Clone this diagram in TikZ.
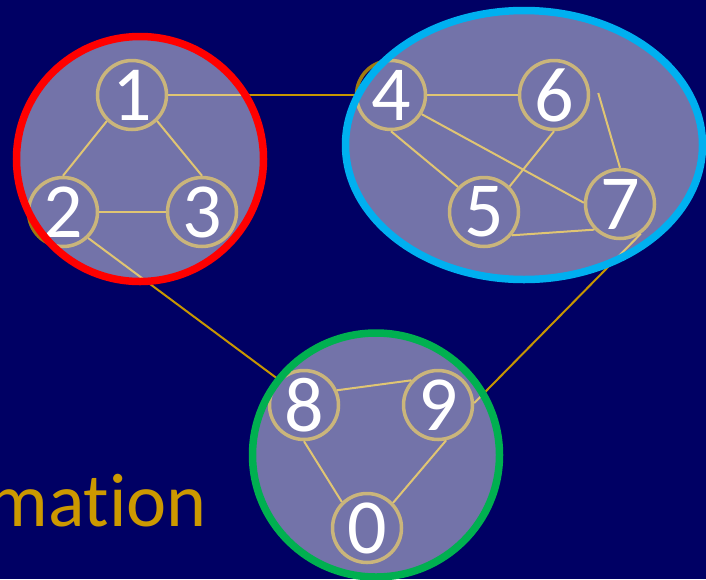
\documentclass[tikz,border=0pt]{standalone}
\usepackage{fontspec}
\setmainfont{Carlito}[Ligatures=NoCommon]
\definecolor{navy}{RGB}{0,0,100}
\definecolor{edgegold}{RGB}{200,150,0}
\definecolor{nodegold}{RGB}{160,122,16}
\definecolor{cred}{RGB}{255,0,0}
\definecolor{cblue}{RGB}{0,176,240}
\definecolor{cgreen}{RGB}{0,176,80}
\definecolor{txtgold}{RGB}{204,153,0}
\begin{document}
\begin{tikzpicture}[x=1pt,y=-1pt,
  vtx/.style={circle, draw=nodegold, line width=3.5pt, minimum size=69pt, inner sep=0pt,
    text=white, font=\fontsize{78}{78}\selectfont},
  edg/.style={draw=edgegold, line width=2pt},
  cluster/.style={fill=white, fill opacity=0.45, line width=7.5pt}]
\fill[navy] (0,0) rectangle (706,579);
\useasboundingbox (0,0) rectangle (706,579);
% vertices
\node[vtx] (n1) at (132,95) {1};
\node[vtx] (n2) at (63,212) {2};
\node[vtx] (n3) at (202,212) {3};
\node[vtx] (n4) at (391,95) {4};
\node[vtx] (n6) at (554,95) {6};
\node[vtx] (n5) at (484,212) {5};
\node[vtx] (n7) at (620,204) {7};
\node[vtx] (n8) at (304,405) {8};
\node[vtx] (n9) at (438,405) {9};
\node[vtx] (n0) at (367,528) {0};
% edges
\draw[edg] (n1.226) -- (n2.north);
\draw[edg] (n1.-46) -- (n3.north);
\draw[edg] (n2.east) -- (n3.west);
\draw[edg] (n1.east) -- (n4.west);
\draw[edg] (n4.east) -- (n6.west);
\draw[edg] (n4.south) -- (n5.136);
\draw[edg] (n4.-32) -- (n7.178);
\draw[edg] (n6.south) -- (n5.45);
\coordinate (c67) at ([xshift=8pt,yshift=2pt]n6.east);
\draw[edg] (c67) -- (n7.north);
\draw[edg] (n5.-40) -- (n7.225);
\draw[edg] (n7.-55) -- (n9.3);
\draw[edg] (n2.-46) -- (n8.135);
\draw[edg] (n8.24) -- (n9.137);
\draw[edg] (n8.south) -- (n0.134);
\draw[edg] (n9.-77) -- (n0.44);
% clusters
\draw[cluster, draw=cred] (140,159) ellipse [x radius=123.5, y radius=122.5];
\draw[cluster, draw=cblue] (524,145) ellipse [x radius=178.5, y radius=134.5];
\draw[cluster, draw=cgreen] (376,455) ellipse [x radius=123.5, y radius=122];
% text
\node[anchor=base east, inner sep=0pt, text=txtgold, font=\fontsize{76}{76}\selectfont] (txt) at (207,526) {mation};
\end{tikzpicture}
\end{document}
